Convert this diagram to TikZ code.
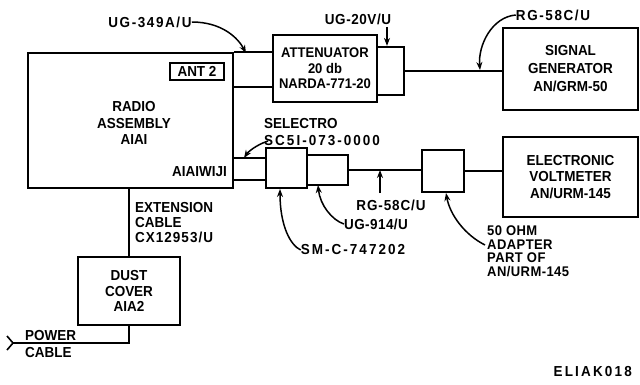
\documentclass[tikz,border=0pt]{standalone}
\usepackage{fontspec}
\setmainfont{Liberation Sans}[FakeStretch=0.93]
\usetikzlibrary{arrows.meta}
\begin{document}
\begin{tikzpicture}[x=1pt,y=-1pt,
  every node/.style={font=\fontsize{14.5}{16.5}\selectfont\bfseries},
  spaced/.style={font=\fontsize{14.5}{16.5}\selectfont\bfseries\addfontfeatures{LetterSpace=#1}},
  blk/.style={draw, line width=2.2pt, inner sep=0pt, align=center},
  wire/.style={line width=2pt},
  lbl/.style={inner sep=0pt, align=left},
  callout/.style={line width=1.5pt, -{Stealth[length=8pt,width=6pt]}}]
\useasboundingbox (0,0) rectangle (640,385);
% blocks
\node[blk, minimum width=205pt, minimum height=135pt] (radio) at (130.5,120.5) {};
\node[blk, minimum width=54pt, minimum height=17pt, line width=1.6pt] (ant) at (197,71.5) {ANT 2};
\node[lbl, align=center] (radiotxt) at (134,123) {RADIO\\ASSEMBLY\\AIAI};
\node[lbl, anchor=east] (jack) at (227,172) {AIAIWIJI};
\node[blk, minimum width=104pt, minimum height=67pt, font=\fontsize{14}{15.5}\selectfont\bfseries] (atten) at (325,68.5) {ATTENUATOR\\20 db\\NARDA-771-20};
\node[blk, minimum width=27pt, minimum height=48pt] (ugt) at (390.5,71) {};
\node[blk, minimum width=135pt, minimum height=82pt, font=\fontsize{14.5}{18}\selectfont\bfseries] (sig) at (570.5,69) {SIGNAL\\GENERATOR\\AN/GRM-50};
\node[blk, minimum width=41pt, minimum height=40pt] (sel) at (286.5,168) {};
\node[blk, minimum width=41pt, minimum height=30pt] (ugn) at (327.5,170) {};
\node[blk, minimum width=42pt, minimum height=42pt] (adp) at (443,171) {};
\node[blk, minimum width=135pt, minimum height=80pt] (volt) at (570.5,177) {ELECTRONIC\\VOLTMETER\\AN/URM-145};
\node[blk, minimum width=102pt, minimum height=68pt, font=\fontsize{14.5}{15.5}\selectfont\bfseries] (dust) at (129,291) {DUST\\COVER\\AIA2};
% connectors
\coordinate (c1b) at (233,87);
\draw[wire] (radio.north east) -- (radio.north east -| atten.west);
\draw[wire] (c1b) -- (c1b -| atten.west);
\coordinate (c2t) at (233,158);
\coordinate (c2b) at (233,180);
\draw[wire] (c2t) -- (c2t -| sel.west);
\draw[wire] (c2b) -- (c2b -| sel.west);
\draw[wire] (ugt.east) -- (ugt.east -| sig.west);
\draw[wire] (ugn.east) -- (ugn.east -| adp.west);
\draw[wire] (adp.east) -- (adp.east -| volt.west);
\draw[wire] (dust.north |- radio.south) -- (dust.north);
\coordinate (pend) at (13,343);
\draw[wire] (dust.south) -- (dust.south |- pend) -- (pend);
\draw[line width=1.6pt] (7,336) -- (pend) -- (7,350);
% labels
\node[lbl, spaced=11] (l349) at (150,22) {UG-349A/U};
\draw[callout] (l349.east) .. controls (222,22) and (238,38) .. (246,53);
\node[lbl, spaced=4] (l20) at (358,19) {UG-20V/U};
\draw[callout] (387,27) -- (ugt.north -| 387,0);
\node[lbl, spaced=11] (lrg1) at (553,15) {RG-58C/U};
\draw[callout] (lrg1.west) .. controls (492,17) and (478,45) .. (480,70);
\node[lbl, anchor=west] (lsel) at (264,132) {SELECTRO\\{\addfontfeatures{LetterSpace=14}SC5I-073-0000}};
\draw[callout] (268,141) .. controls (256,145) and (248,152) .. (244,158);
\node[lbl, spaced=6] (lrg2) at (391,205) {RG-58C/U};
\draw[callout] (380,193) -- (380,170);
\node[lbl, spaced=3] (l914) at (376,224) {UG-914/U};
\draw[callout] (l914.west) .. controls (332,220) and (320,205) .. (318,185);
\node[lbl, spaced=14] (lsm) at (353,250) {SM-C-747202};
\draw[callout] (lsm.west) .. controls (290,245) and (280,225) .. (280,189);
\node[lbl, anchor=north west, font=\fontsize{14}{13.5}\selectfont\bfseries\addfontfeatures{LetterSpace=3}] (ladp) at (487,226) {50 OHM\\ADAPTER\\PART OF\\AN/URM-145};
\draw[callout] (485,245) .. controls (465,235) and (450,215) .. (446,193);
\node[lbl, anchor=north west, font=\fontsize{14.5}{15}\selectfont\bfseries] (lext) at (135,202) {EXTENSION\\CABLE\\{\addfontfeatures{LetterSpace=7}CX12953/U}};
\node[lbl, anchor=south west] (lpow) at (25,341) {POWER};
\node[lbl, anchor=north west] (lcab) at (25,347) {CABLE};
\node[lbl, anchor=east, spaced=15] (code) at (632,372) {ELIAK018};
\end{tikzpicture}
\end{document}
